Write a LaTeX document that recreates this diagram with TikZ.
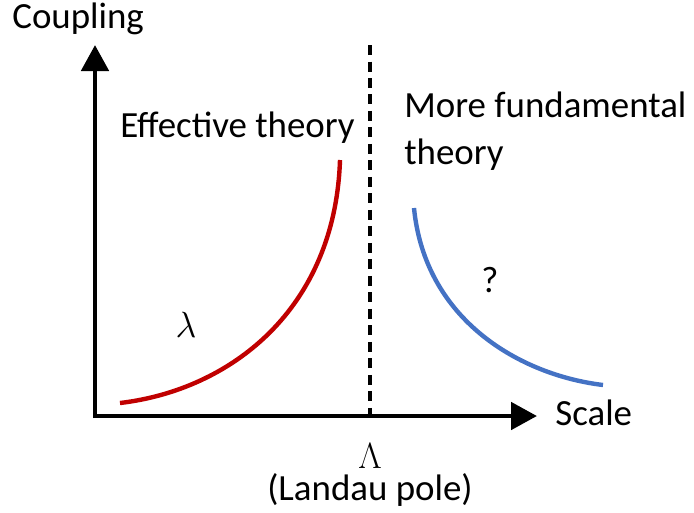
\documentclass[tikz,border=0pt]{standalone}
\usepackage{fontspec}
\setmainfont{Carlito}
\usepackage{tikz}
\usetikzlibrary{arrows.meta}
\usepackage{xcolor}
\definecolor{PoleRed}{HTML}{C00000}
\definecolor{FundBlue}{HTML}{4472C4}

\begin{document}
\begin{tikzpicture}[x=0.02cm, y=-0.02cm,
    axis/.style={line width=2.8pt, -{Triangle[length=0.52cm, width=0.54cm]}},
    lbl/.style={inner sep=0pt, font=\fontsize{21}{25}\selectfont}]
  \useasboundingbox (0,0) rectangle (694,512);
  % axes
  \coordinate (origin) at (93,416);
  \coordinate (ytip)   at (95,45);
  \coordinate (xtip)   at (537,416);
  \draw[axis] (95,418) -- (ytip);
  \draw[axis] (origin) -- (xtip);
  % Landau pole
  \coordinate (poletop) at (370,45);
  \coordinate (polebot) at (370,416);
  \draw[line width=2.2pt, dash pattern=on 0.2cm off 0.13cm] (poletop) -- (polebot);
  % running couplings
  \coordinate (redA) at (120,403);
  \coordinate (redB) at (340,160);
  \draw[PoleRed, line width=2.5pt] (redA) .. controls (230,390) and (335,310) .. (redB);
  \coordinate (blueA) at (414,208);
  \coordinate (blueB) at (603,385);
  \draw[FundBlue, line width=2.5pt] (blueA) .. controls (425,320) and (520,375) .. (blueB);
  % labels
  \node[lbl, anchor=base west] (coupling) at (12,28) {Coupling};
  \node[lbl, anchor=base west] (scale) at (555,425) {Scale};
  \node[lbl, anchor=base west] (eff) at (120,137) {Effective theory};
  \node[lbl, anchor=base west] (fundA) at (404,117) {More fundamental};
  \node[lbl, anchor=base west] (fundB) at (404,164) {theory};
  \node[lbl] (lam) at (186,325) {$\lambda$};
  \node[lbl] (qmark) at (490,280) {?};
  \node[lbl, anchor=base] (Lam) at (370,468) {$\Lambda$};
  \node[lbl, anchor=base] (landau) at (370,500) {(Landau pole)};
\end{tikzpicture}
\end{document}
